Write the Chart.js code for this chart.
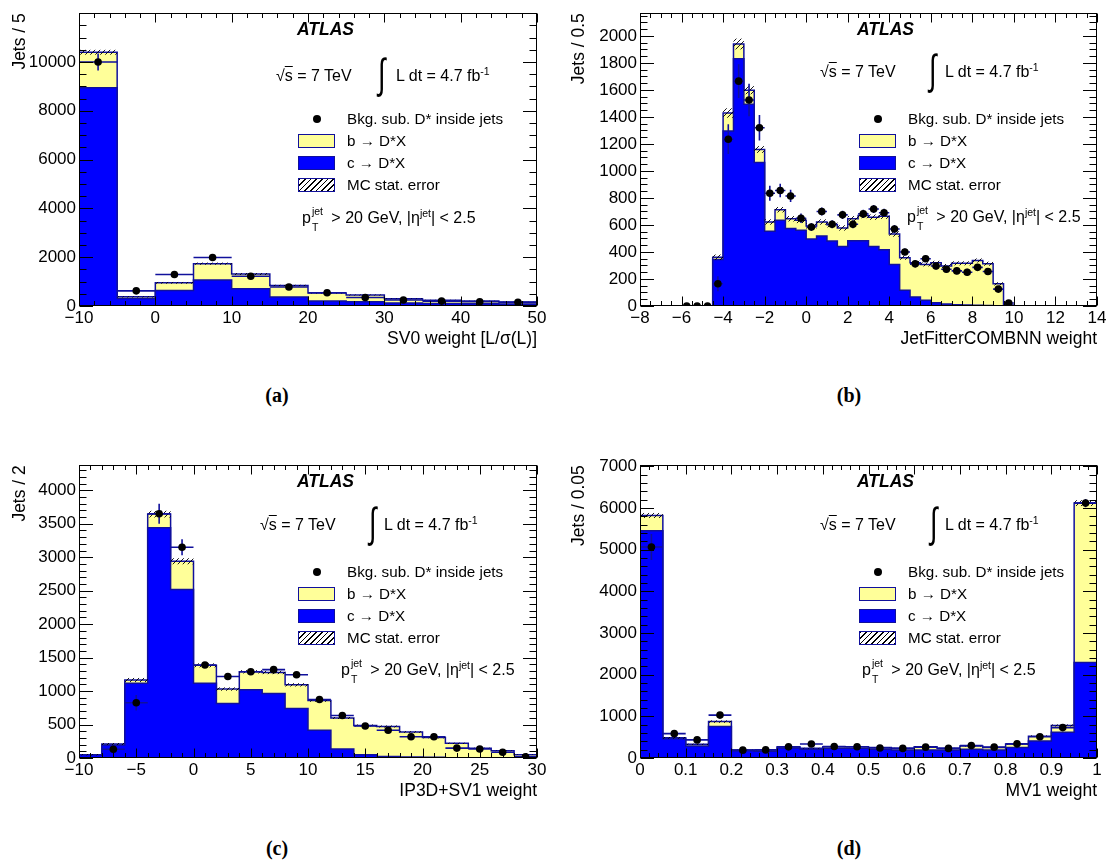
<!DOCTYPE html>
<html>
<head>
<meta charset="utf-8">
<title>D* in jets - tagger weights</title>
<script src="https://cdn.jsdelivr.net/npm/chart.js@4.4.1/dist/chart.umd.min.js"></script>
<style>
  body { margin: 0; background: #fff; }
  #page { position: relative; width: 1110px; height: 862px; overflow: hidden;
          font-family: "Liberation Sans", Arial, sans-serif; color: #000; }
  #page canvas { position: absolute; }
  .lbl { position: absolute; white-space: nowrap; line-height: 1; transform: translateY(-50%); font-size: 16px; }
  .leg { font-size: 15.2px; }
  .atlas { font-weight: bold; font-style: italic; font-size: 17.5px; }
  .intg { font-size: 27px; transform: translateY(-50%) scaleY(1.55); }
  .box { position: absolute; width: 35px; height: 12px; border: 1.5px solid #10109c; }
  .dot { position: absolute; width: 8px; height: 8px; border-radius: 50%; background: #000; }
  .cap { position: absolute; font-family: "Liberation Serif", serif; font-weight: bold; font-size: 20px;
         transform: translate(-50%, -50%); }
  .jt { display: inline-block; position: relative; width: 16px; height: 10px; }
  .jt span { position: absolute; left: 1px; font-size: 10.5px; }
  .jt span.up { top: -7px; }
  .jt span.dn { top: 9px; }
  sup { font-size: 10.5px; line-height: 0; }
  .ov { text-decoration: overline; }
</style>
</head>
<body>
<div id="page"></div>
<script>
// ---- (a) SV0 weight, bins of 5 starting at -10
const sv0Lo = -10, sv0Bin = 5;
const sv0Charm = [8940, 310, 640, 1070, 710, 370, 210, 170, 120, 105, 90, 80];
const sv0Bquark = [1460, 65, 310, 665, 600, 470, 320, 280, 175, 135, 110, 80];
const sv0McErr = [100, 25, 35, 45, 40, 30, 25, 20, 18, 15, 14, 12];
const sv0Data = [10000, 620, 1290, 1990, 1220, 780, 545, 350, 245, 200, 175, 150];
const sv0DataErr = [350, 70, 80, 90, 80, 60, 50, 45, 40, 35, 30, 30];
const sv0XTicks = [-10, 0, 10, 20, 30, 40, 50];
const sv0YTicks = [0, 2000, 4000, 6000, 8000, 10000];

// ---- (b) JetFitterCOMBNN weight, bins of 0.5 starting at -8
const jfcLo = -8, jfcBin = 0.5;
const jfcCharm = [0, 0, 0, 0, 0, 0, 0,
  345, 1296, 1831, 1494, 1063, 554, 634, 573, 561, 496, 518, 482, 441, 484, 484,
  441, 417, 308, 116, 67, 43, 24, 14, 10, 7, 5, 3, 2, 0,
  0, 0, 0, 0, 0, 0, 0, 0];
const jfcBquark = [0, 0, 0, 0, 0, 0, 0,
  16, 133, 109, 104, 96, 68, 79, 73, 73, 97, 104, 120, 137, 162, 186,
  217, 248, 225, 241, 253, 265, 296, 282, 306, 309, 332, 310, 162, 7,
  0, 0, 0, 0, 0, 0, 0, 0];
const jfcMcErr = [0, 0, 0, 0, 0, 0, 0,
  20, 35, 40, 30, 25, 20, 20, 20, 20, 20, 20, 20, 20, 20, 20,
  20, 20, 20, 15, 15, 15, 15, 15, 15, 15, 15, 15, 12, 4,
  0, 0, 0, 0, 0, 0, 0, 0];
const jfcData = [null, null, null, null, 0, 0, 0,
  165, 1235, 1665, 1525, 1320, 835, 855, 815, 650, 585, 700, 605, 675, 605, 682,
  718, 690, 570, 400, 312, 350, 296, 272, 260, 250, 286, 255, 125, 22,
  null, null, null, null, null, null, null, null];
const jfcDataErr = [0, 0, 0, 0, 0, 0, 0,
  55, 110, 125, 120, 95, 55, 50, 45, 35, 30, 30, 30, 30, 30, 30,
  30, 30, 30, 25, 25, 25, 25, 25, 25, 25, 25, 25, 20, 10,
  0, 0, 0, 0, 0, 0, 0, 0];
const jfcXTicks = [-8, -6, -4, -2, 0, 2, 4, 6, 8, 10, 12, 14];
const jfcYTicks = [0, 200, 400, 600, 800, 1000, 1200, 1400, 1600, 1800, 2000];

// ---- (c) IP3D+SV1 weight, bins of 2 starting at -10
const ipLo = -10, ipBin = 2;
const ipCharm = [48, 194, 1118, 3440, 2517, 1118, 816, 1020, 962, 739, 413, 136, 49, 24, 15, 10, 5, 3, 2, 1];
const ipBquark = [1, 15, 48, 204, 423, 267, 214, 268, 316, 354, 447, 462, 437, 447, 374, 296, 214, 143, 105, 48];
const ipMcErr = [10, 15, 30, 50, 45, 30, 25, 25, 25, 25, 20, 15, 15, 15, 12, 12, 10, 8, 6, 5];
const ipData = [null, 130, 826, 3650, 3150, 1390, 1218, 1288, 1320, 1243, 873, 635, 478, 415, 318, 318, 148, 135, 85, 17];
const ipDataErr = [0, 60, 115, 150, 120, 45, 40, 40, 40, 40, 35, 30, 25, 25, 25, 20, 20, 20, 15, 15];
const ipXTicks = [-10, -5, 0, 5, 10, 15, 20, 25, 30];
const ipYTicks = [0, 500, 1000, 1500, 2000, 2500, 3000, 3500, 4000];

// ---- (d) MV1 weight, bins of 0.05 starting at 0
const mvLo = 0, mvBin = 0.05;
const mvCharm = [5456, 460, 289, 757, 172, 164, 242, 211, 234, 234, 211, 195, 195, 195, 211, 195, 250, 406, 617, 2295];
const mvBquark = [367, 24, 39, 117, 23, 31, 31, 23, 39, 39, 39, 39, 78, 39, 78, 55, 86, 117, 164, 3825];
const mvMcErr = [60, 20, 15, 30, 10, 10, 12, 10, 12, 12, 10, 10, 12, 10, 12, 10, 15, 20, 25, 70];
const mvData = [5066, 585, 435, 1030, 188, 195, 268, 335, 275, 270, 240, 230, 260, 230, 300, 260, 340, 510, 730, 6120];
const mvDataErr = [310, 50, 45, 60, 30, 30, 30, 35, 30, 30, 30, 30, 30, 30, 30, 30, 35, 45, 60, 100];
const mvXTicks = [0, 0.1, 0.2, 0.3, 0.4, 0.5, 0.6, 0.7, 0.8, 0.9, 1];
const mvYTicks = [0, 1000, 2000, 3000, 4000, 5000, 6000, 7000];

const SANS = '"Liberation Sans", Arial, sans-serif';
const NAVY = '#10109c';
const BLUE = '#0000ff';
const YELLOW = '#ffff99';

const page = document.getElementById('page');

// hatch pattern for the MC stat. error band
function makeHatch() {
  const c = document.createElement('canvas');
  c.width = c.height = 5;
  const g = c.getContext('2d');
  g.strokeStyle = '#000';
  g.lineWidth = 0.9;
  g.beginPath();
  g.moveTo(0, 5); g.lineTo(5, 0);
  g.moveTo(-1, 1); g.lineTo(1, -1);
  g.moveTo(4, 6); g.lineTo(6, 4);
  g.stroke();
  return g.createPattern(c, 'repeat');
}
const hatch = makeHatch();

// corner points of a histogram outline, so the line draws the steps
function histPoints(lo, w, vals) {
  const pts = [{x: lo, y: 0}];
  vals.forEach((v, i) => {
    pts.push({x: lo + i * w, y: v});
    pts.push({x: lo + (i + 1) * w, y: v});
  });
  pts.push({x: lo + vals.length * w, y: 0});
  return pts;
}

const fmt = v => String(v).replace('-', '\u2212');

// MC band, data error bars, then frame with ROOT-like inner ticks
const histExtras = {
  id: 'histExtras',
  beforeDatasetDraw(chart, args) {
    const ds = chart.data.datasets[args.index];
    if (!ds.hist) return;
    const {ctx, chartArea: a, scales: {x, y}} = chart;
    const h = ds.hist;
    ctx.save();
    ctx.beginPath();
    ctx.rect(a.left, a.top, a.width, a.height);
    ctx.clip();
    ctx.fillStyle = hatch;
    h.tot.forEach((t, i) => {
      if (!t) return;
      const x0 = x.getPixelForValue(h.lo + i * h.w);
      const x1 = x.getPixelForValue(h.lo + (i + 1) * h.w);
      const y0 = y.getPixelForValue(t + h.mc[i]);
      const y1 = y.getPixelForValue(Math.max(0, t - h.mc[i]));
      ctx.fillRect(x0, y0, x1 - x0, y1 - y0);
    });
    ctx.strokeStyle = NAVY;
    ctx.lineWidth = 1.6;
    ds.data.forEach(d => {
      const xl = x.getPixelForValue(d.x - h.w / 2);
      const xr = x.getPixelForValue(d.x + h.w / 2);
      const xc = x.getPixelForValue(d.x);
      const yc = y.getPixelForValue(d.y);
      ctx.beginPath();
      ctx.moveTo(xl, yc); ctx.lineTo(xr, yc);
      if (d.e > 0) {
        ctx.moveTo(xc, y.getPixelForValue(d.y + d.e));
        ctx.lineTo(xc, y.getPixelForValue(Math.max(0, d.y - d.e)));
      }
      ctx.stroke();
    });
    ctx.restore();
  },
  afterDatasetsDraw(chart, args, opts) {
    const {ctx, chartArea: a, scales: {x, y}} = chart;
    const L = Math.round(a.left) + 0.5, R = Math.round(a.right) - 0.5;
    const T = Math.round(a.top) + 0.5, B = Math.round(a.bottom) - 0.5;
    ctx.save();
    ctx.strokeStyle = '#000';
    ctx.lineWidth = 1;
    ctx.strokeRect(L, T, R - L, B - T);
    ctx.beginPath();
    const xMaj = x.ticks.map(t => t.value);
    for (let k = 0; ; k++) {
      const v = x.min + k * opts.xMinor;
      if (v > x.max + opts.xMinor / 100) break;
      const len = xMaj.some(m => Math.abs(m - v) < opts.xMinor / 10) ? 9 : 4.5;
      const px = Math.round(x.getPixelForValue(v)) + 0.5;
      ctx.moveTo(px, B); ctx.lineTo(px, B - len);
      ctx.moveTo(px, T); ctx.lineTo(px, T + len);
    }
    const yMaj = y.ticks.map(t => t.value);
    for (let k = 0; ; k++) {
      const v = y.min + k * opts.yMinor;
      if (v > y.max) break;
      const len = yMaj.some(m => Math.abs(m - v) < opts.yMinor / 10) ? 13.5 : 7;
      const py = Math.round(y.getPixelForValue(v)) + 0.5;
      ctx.moveTo(L, py); ctx.lineTo(L + len, py);
      ctx.moveTo(R, py); ctx.lineTo(R - len, py);
    }
    ctx.stroke();
    ctx.restore();
  }
};

const panels = [
  {left: 0, top: 0, width: 555, padRight: 18, yWidth: 79, yTitlePad: 10,
   lo: sv0Lo, w: sv0Bin, charm: sv0Charm, bq: sv0Bquark, mc: sv0McErr, data: sv0Data, err: sv0DataErr,
   xMin: -10, xMax: 50, xTicks: sv0XTicks, xMinor: 2, yMax: 12000, yTicks: sv0YTicks, yMinor: 500,
   xTitle: 'SV0 weight [L/\u03c3(L)]', yTitle: 'Jets / 5'},
  {left: 555, top: 0, width: 555, padRight: 13, yWidth: 85, yTitlePad: 13.5,
   lo: jfcLo, w: jfcBin, charm: jfcCharm, bq: jfcBquark, mc: jfcMcErr, data: jfcData, err: jfcDataErr,
   xMin: -8, xMax: 14, xTicks: jfcXTicks, xMinor: 0.5, yMax: 2168, yTicks: jfcYTicks, yMinor: 50,
   xTitle: 'JetFitterCOMBNN weight', yTitle: 'Jets / 0.5'},
  {left: 0, top: 452, width: 555, padRight: 18, yWidth: 79, yTitlePad: 10,
   lo: ipLo, w: ipBin, charm: ipCharm, bq: ipBquark, mc: ipMcErr, data: ipData, err: ipDataErr,
   xMin: -10, xMax: 30, xTicks: ipXTicks, xMinor: 1, yMax: 4375, yTicks: ipYTicks, yMinor: 100,
   xTitle: 'IP3D+SV1 weight', yTitle: 'Jets / 2'},
  {left: 555, top: 452, width: 555, padRight: 13, yWidth: 85, yTitlePad: 13.5,
   lo: mvLo, w: mvBin, charm: mvCharm, bq: mvBquark, mc: mvMcErr, data: mvData, err: mvDataErr,
   xMin: 0, xMax: 1, xTicks: mvXTicks, xMinor: 0.02, yMax: 7030, yTicks: mvYTicks, yMinor: 200,
   xTitle: 'MV1 weight', yTitle: 'Jets / 0.05'}
];

panels.forEach(p => {
  const cv = document.createElement('canvas');
  cv.width = p.width;
  cv.height = 360;
  cv.style.left = p.left + 'px';
  cv.style.top = p.top + 'px';
  page.appendChild(cv);

  const tot = p.charm.map((c, i) => c + p.bq[i]);
  const pts = [];
  p.data.forEach((v, i) => {
    if (v !== null) pts.push({x: p.lo + (i + 0.5) * p.w, y: v, e: p.err[i]});
  });
  const tickFont = {family: SANS, size: 17};
  const titleFont = {family: SANS, size: 17.5};

  new Chart(cv, {
    type: 'line',
    data: {
      datasets: [
        {data: histPoints(p.lo, p.w, tot), borderColor: NAVY, borderWidth: 1.5,
         backgroundColor: YELLOW, fill: 'origin', pointRadius: 0, order: 5},
        {data: histPoints(p.lo, p.w, p.charm), borderColor: NAVY, borderWidth: 1.5,
         backgroundColor: BLUE, fill: 'origin', pointRadius: 0, order: 4},
        {data: pts, showLine: false, fill: false, pointRadius: 3.8, pointBorderWidth: 0,
         pointBackgroundColor: '#000', order: 1,
         hist: {lo: p.lo, w: p.w, tot: tot, mc: p.mc}}
      ]
    },
    options: {
      responsive: false,
      animation: false,
      events: [],
      layout: {padding: {left: 0, top: 6, right: p.padRight, bottom: 0}},
      plugins: {
        legend: {display: false},
        tooltip: {enabled: false},
        histExtras: {xMinor: p.xMinor, yMinor: p.yMinor}
      },
      scales: {
        x: {
          type: 'linear', min: p.xMin, max: p.xMax,
          afterBuildTicks: s => { s.ticks = p.xTicks.map(v => ({value: v})); },
          afterFit: s => { s.height = 54; },
          grid: {display: false, drawTicks: false},
          border: {display: false},
          ticks: {padding: 2, color: '#000', font: tickFont, maxRotation: 0, autoSkip: false,
                  callback: v => fmt(v)},
          title: {display: true, text: p.xTitle, align: 'end', color: '#000', font: titleFont,
                  padding: {top: 0, bottom: 10}}
        },
        y: {
          type: 'linear', min: 0, max: p.yMax,
          afterBuildTicks: s => { s.ticks = p.yTicks.map(v => ({value: v})); },
          afterFit: s => { s.width = p.yWidth; },
          grid: {display: false, drawTicks: false},
          border: {display: false},
          ticks: {padding: 3, color: '#000', font: tickFont, callback: v => fmt(v)},
          title: {display: true, text: p.yTitle, align: 'end', color: '#000', font: titleFont,
                  padding: {top: p.yTitlePad, bottom: 0}}
        }
      }
    },
    plugins: [histExtras]
  });
});

// text annotations and legends
const notes = [
  {atlas: [297, 30], rs: [276, 76], intX: 378, lumX: 396, boxX: 298, legY: 119, pt: [302, 218], cap: ['(a)', 277, 395]},
  {atlas: [857, 30], rs: [820, 72], intX: 929, lumX: 945, boxX: 859, legY: 119, pt: [907, 217], cap: ['(b)', 849, 395]},
  {atlas: [297, 482], rs: [260, 525], intX: 369, lumX: 384, boxX: 298, legY: 572, pt: [341, 670], cap: ['(c)', 277, 848]},
  {atlas: [857, 482], rs: [820, 525], intX: 930, lumX: 945, boxX: 859, legY: 572, pt: [862, 670], cap: ['(d)', 849, 848]}
];

function put(cls, x, y, html, extra) {
  const el = document.createElement('div');
  el.className = cls;
  el.style.left = x + 'px';
  el.style.top = y + 'px';
  if (extra) Object.assign(el.style, extra);
  el.innerHTML = html;
  page.appendChild(el);
  return el;
}

notes.forEach(n => {
  put('lbl atlas', n.atlas[0], n.atlas[1], 'ATLAS');
  put('lbl', n.rs[0], n.rs[1], '\u221a<span class="ov">s</span> = 7 TeV');
  put('lbl intg', n.intX, n.rs[1] - 1, '\u222b');
  put('lbl', n.lumX, n.rs[1], 'L dt = 4.7 fb<sup>-1</sup>');

  const rows = ['Bkg. sub. D* inside jets', 'b \u2192 D*X', 'c \u2192 D*X', 'MC stat. error'];
  rows.forEach((t, i) => put('lbl leg', n.boxX + 49, n.legY + i * 22, t));
  put('dot', n.boxX + 15, n.legY - 4, '');
  put('box', n.boxX, n.legY + 22 - 7.5, '', {background: YELLOW});
  put('box', n.boxX, n.legY + 44 - 7.5, '', {background: BLUE});
  put('box', n.boxX, n.legY + 66 - 7.5, '',
      {background: 'repeating-linear-gradient(135deg, #000 0 1px, #fff 1px 4px)'});

  put('lbl', n.pt[0], n.pt[1],
      'p<span class="jt"><span class="up">jet</span><span class="dn">T</span></span> &gt; 20 GeV, |\u03b7<sup>jet</sup>| &lt; 2.5');
  put('cap', n.cap[1], n.cap[2], n.cap[0]);
});
</script>
</body>
</html>
